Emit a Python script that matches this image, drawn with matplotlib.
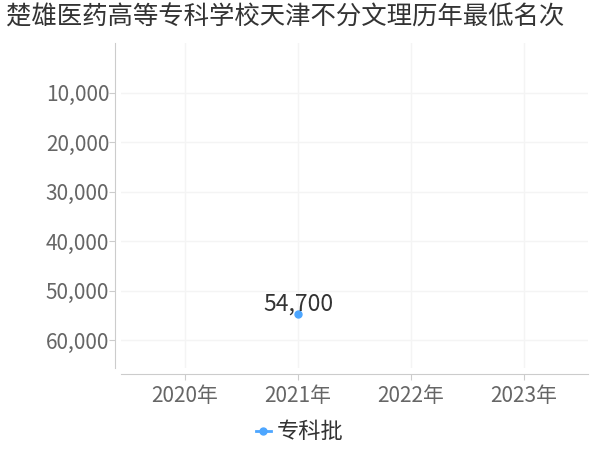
import matplotlib
matplotlib.use("Agg")
import matplotlib.pyplot as plt
from matplotlib.ticker import FuncFormatter

plt.rcParams['font.family'] = ['Noto Sans CJK SC', 'DejaVu Sans']

title = "楚雄医药高等专科学校天津不分文理历年最低名次"
years = ["2020年", "2021年", "2022年", "2023年"]
series_name = "专科批"
values = [None, 54700, None, None]
y_ticks = [10000, 20000, 30000, 40000, 50000, 60000]

fig = plt.figure(figsize=(6, 4.5), dpi=100)
ax = fig.add_axes([121/600, 1-368/450, (588-121)/600, (368-43)/450])

xs = [i for i, v in enumerate(values) if v is not None]
ys = [v for v in values if v is not None]
color = "#4da6ff"
ax.plot(xs, ys, color=color, marker="o", markersize=5, linewidth=2, label=series_name, zorder=3)
for x, y in zip(xs, ys):
    ax.annotate(f"{y:,}", (x, y), xytext=(0, 2.5), textcoords="offset points",
                ha="center", va="baseline", fontsize=16.5, color="#333333")

ax.set_xlim(-0.566, 3.566)
ax.set_ylim(max(ys) * 1.2, 0)
ax.set_xticks(range(len(years)))
ax.set_xticklabels(years)
ax.set_yticks(y_ticks)
ax.yaxis.set_major_formatter(FuncFormatter(lambda v, p: f"{int(v):,}"))

ax.grid(True, color="#f4f4f4", linewidth=1)
ax.set_axisbelow(True)
for s in ["top", "right"]:
    ax.spines[s].set_visible(False)
for s in ["left", "bottom"]:
    ax.spines[s].set_color("#cccccc")
    ax.spines[s].set_position(("outward", 4))
ax.tick_params(axis="both", colors="#cccccc", labelcolor="#666666", labelsize=15, length=4)
ax.tick_params(axis="x", pad=4)
ax.tick_params(axis="y", pad=0.5)

fig.suptitle(title, x=0.476, y=0.99, fontsize=18.3, color="#333333", va="top")

fig.legend(loc="center", bbox_to_anchor=(0.5, 1-432/450), frameon=False, fontsize=16,
           handlelength=0.65, handletextpad=0.3, labelcolor="#333333")

fig.savefig("out.png", dpi=100)
